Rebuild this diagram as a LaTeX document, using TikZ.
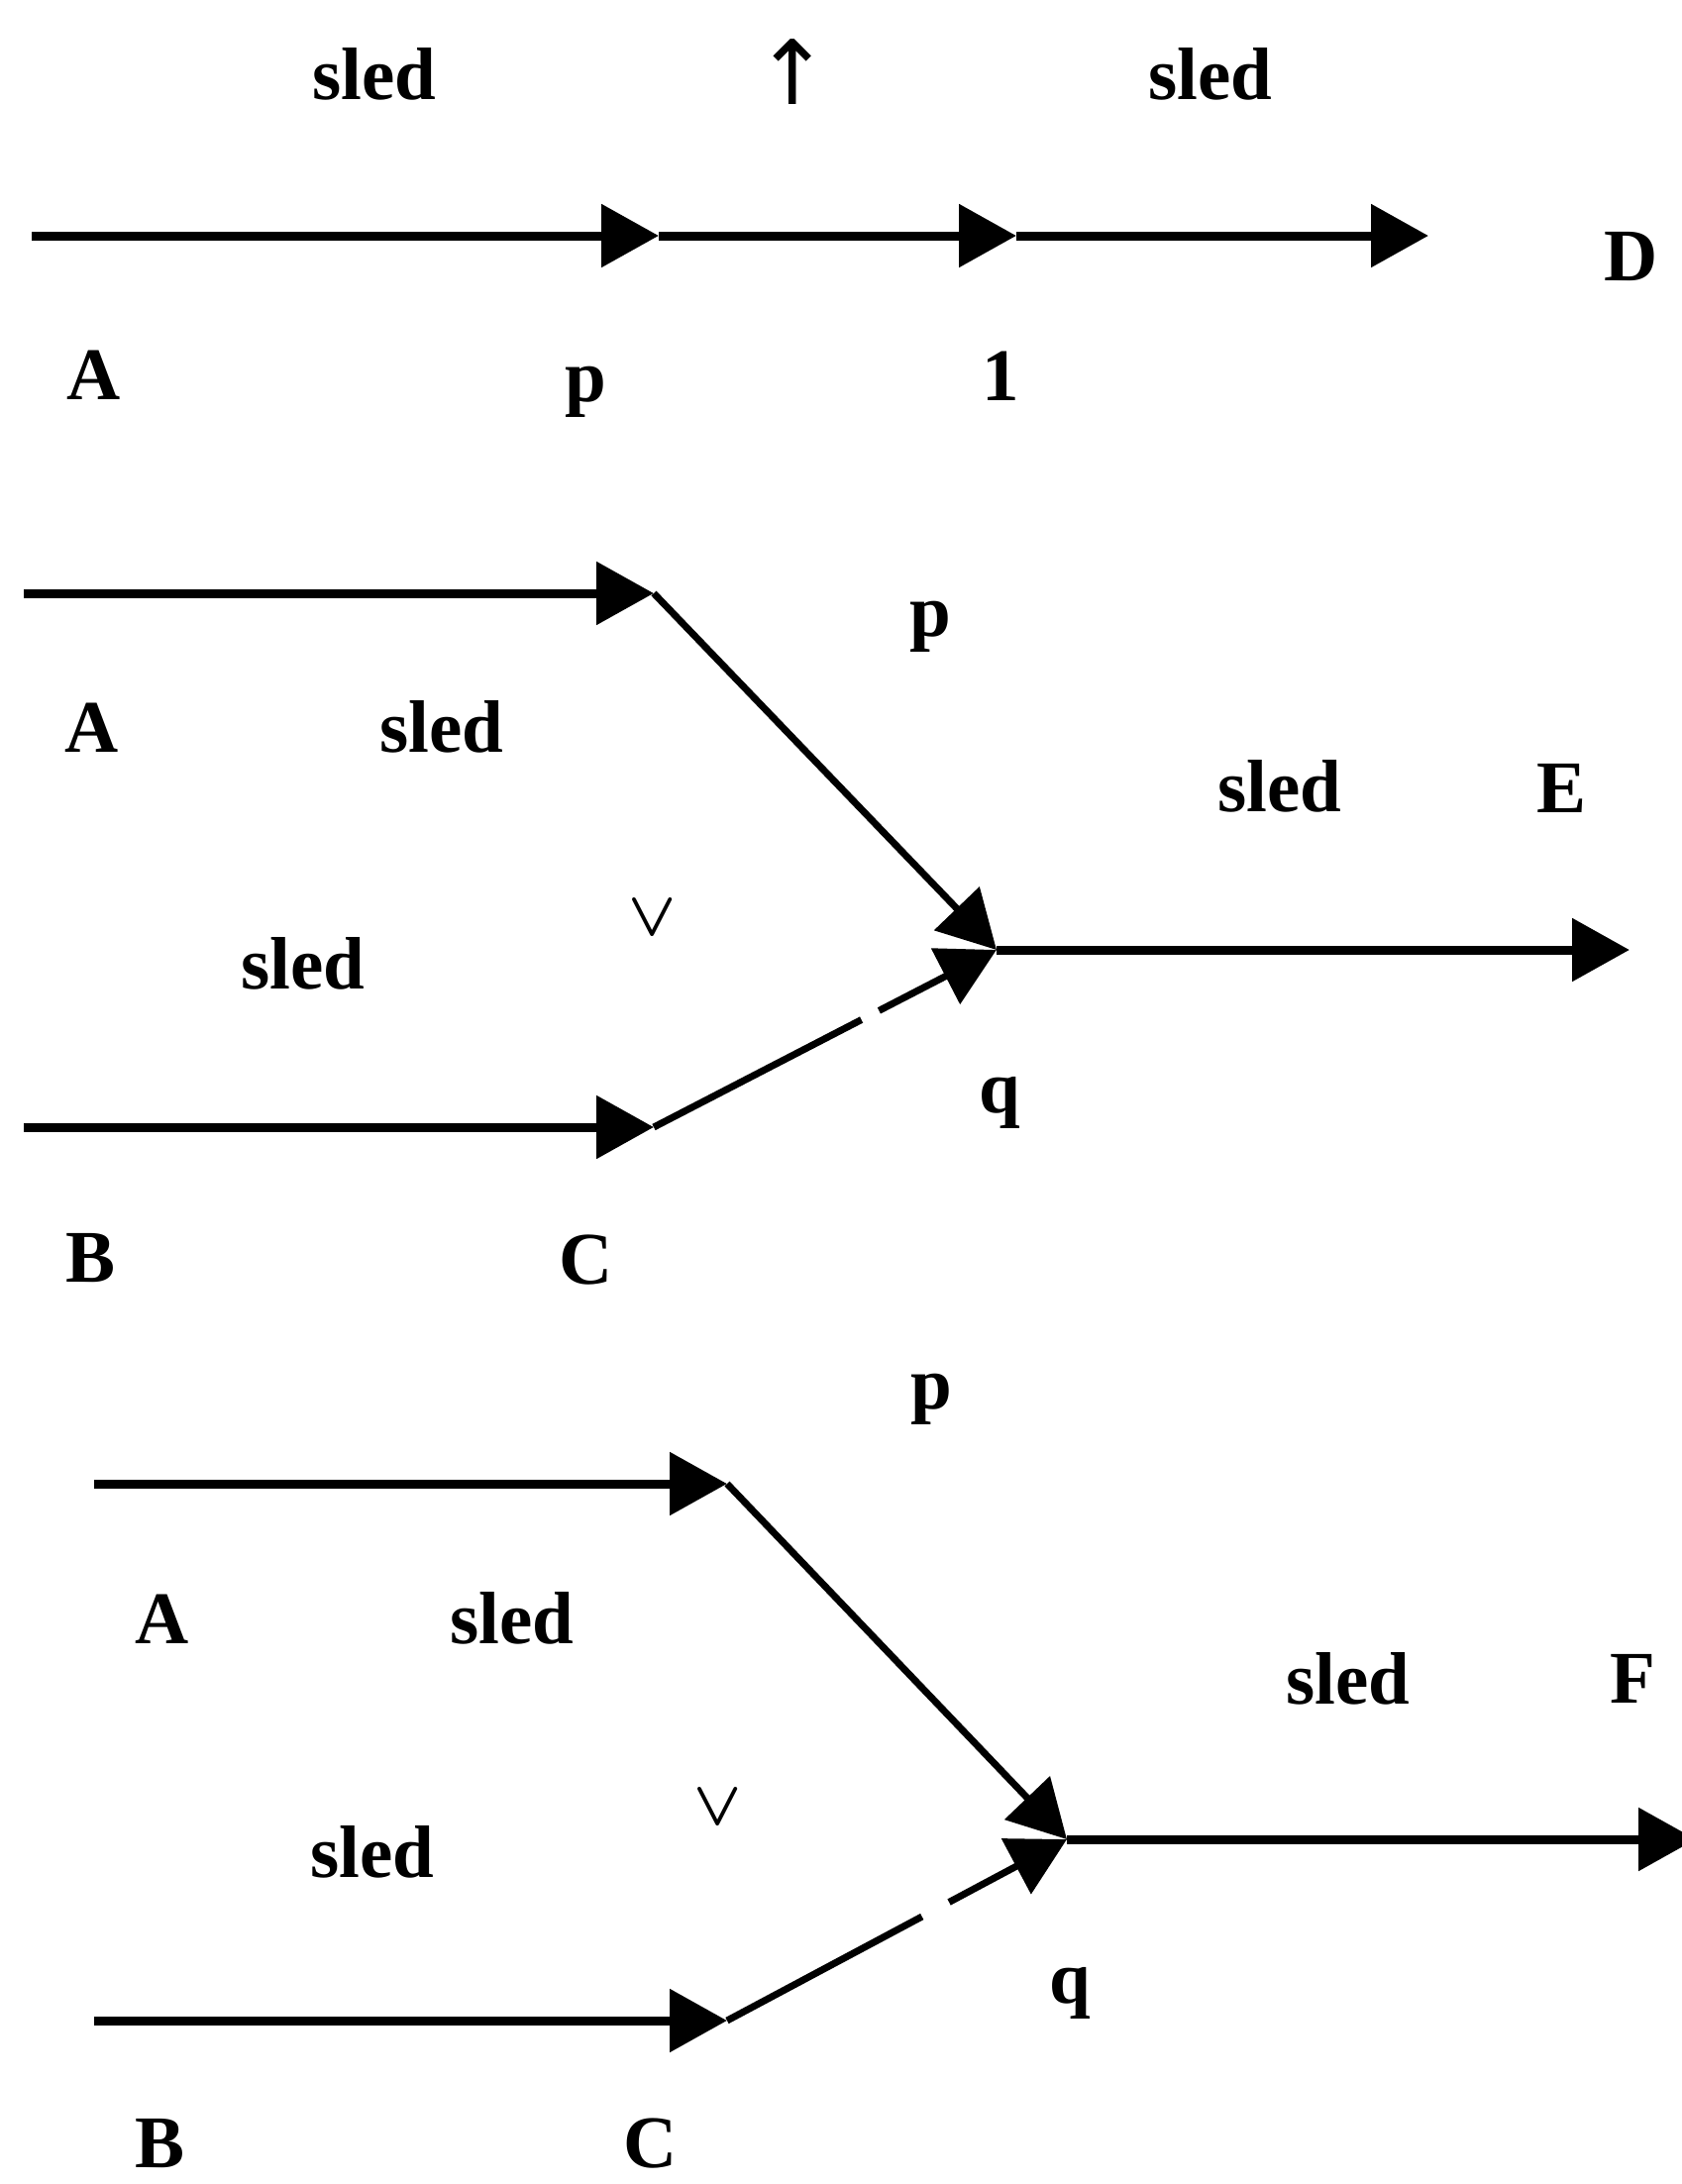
\documentclass[tikz,border=0pt]{standalone}
\usepackage{fontspec}
\setmainfont{Liberation Serif}
\newfontfamily\symfont{DejaVu Sans}
\usetikzlibrary{arrows.meta}
\begin{document}
\begin{tikzpicture}[x=1pt,y=-1pt,
  lbl/.style={font=\fontsize{75}{75}\selectfont\bfseries, inner sep=0pt, anchor=center},
  orsym/.style={font=\boldmath, inner sep=0pt, anchor=center, scale=6.3, transform shape},
  upsym/.style={font=\fontsize{90}{90}\selectfont\symfont, inner sep=0pt, anchor=center},
  conn/.style={line width=9pt, -{Triangle[length=58pt,width=62pt]}},
  diag/.style={line width=7pt, -{Triangle[length=58pt,width=62pt]}}]
\useasboundingbox (0,0) rectangle (1697,2205);
\fill[white] (0,0) rectangle (1697,2205);

% ---------- top row ----------
\coordinate (a1) at (32,238);
\coordinate (a2) at (665,238);
\coordinate (a3) at (1026,238);
\coordinate (a4) at (1442,238);
\draw[conn] (a1) -- (a2);
\draw[conn] (a2) -- (a3);
\draw[conn] (a3) -- (a4);
\node[lbl] (tsled1) at (378,75) {sled};
\node[upsym] (tup) at (800,73) {↑};
\node[lbl] (tsled2) at (1222,75) {sled};
\node[lbl] (tD) at (1647,259) {D};
\node[lbl] (tA) at (95,379) {A};
\node[lbl] (tp) at (591,396) {p};
\node[lbl] (t1) at (1010,380) {1};

% ---------- middle ----------
\coordinate (m1) at (24,599);
\coordinate (m2) at (660,599);
\coordinate (m3) at (24,1138);
\coordinate (m4) at (660,1138);
\coordinate (mj) at (1006,959);
\coordinate (me) at (1645,959);
\draw[conn] (m1) -- (m2);
\draw[conn] (m3) -- (m4);
\draw[diag] (m2) -- (mj);
\draw[diag, dash pattern=on 236pt off 20pt on 400pt] (m4) -- (mj);
\draw[conn] (mj) -- (me);
\node[lbl] (mp) at (939,633) {p};
\node[lbl] (mA) at (93,735) {A};
\node[lbl] (msled1) at (446,734) {sled};
\node[lbl] (msled3) at (1292,794) {sled};
\node[lbl] (mE) at (1576,796) {E};
\node[orsym] (mor) at (659,927) {$\vee$};
\node[lbl] (msled2) at (306,973) {sled};
\node[lbl] (mq) at (1009,1113) {q};
\node[lbl] (mB) at (92,1270) {B};
\node[lbl] (mC) at (592,1272) {C};

% ---------- bottom ----------
\coordinate (b1) at (95,1498);
\coordinate (b2) at (734,1498);
\coordinate (b3) at (95,2040);
\coordinate (b4) at (734,2040);
\coordinate (bj) at (1077,1857);
\coordinate (bf) at (1712,1857);
\draw[conn] (b1) -- (b2);
\draw[conn] (b3) -- (b4);
\draw[diag] (b2) -- (bj);
\draw[diag, dash pattern=on 223pt off 31pt on 400pt] (b4) -- (bj);
\draw[conn] (bj) -- (bf);
\node[lbl] (bp) at (940,1413) {p};
\node[lbl] (bA) at (164,1635) {A};
\node[lbl] (bsled1) at (517,1634) {sled};
\node[lbl] (bsled3) at (1361,1695) {sled};
\node[lbl] (bF) at (1648,1695) {F};
\node[orsym] (bor) at (725,1825) {$\vee$};
\node[lbl] (bsled2) at (376,1870) {sled};
\node[lbl] (bq) at (1080,2012) {q};
\node[lbl] (bB) at (162,2164) {B};
\node[lbl] (bC) at (657,2164) {C};
\end{tikzpicture}
\end{document}
